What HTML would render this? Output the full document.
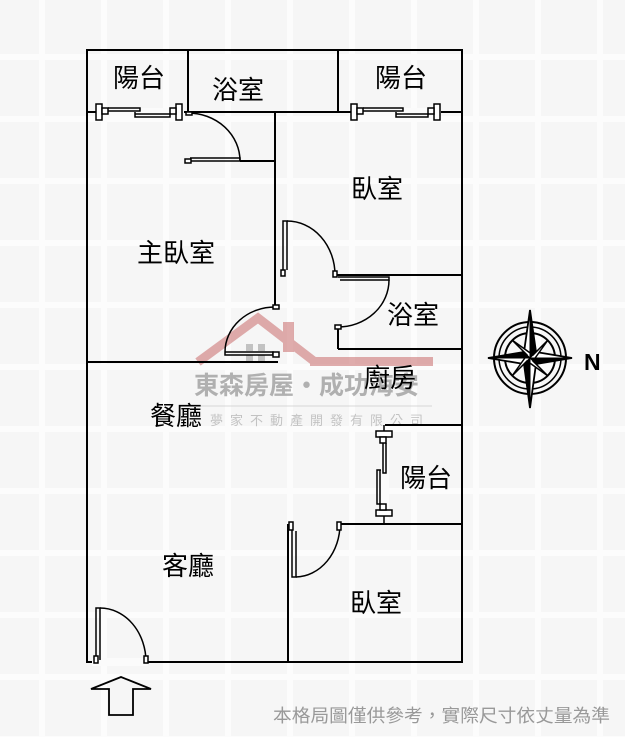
<!DOCTYPE html>
<html><head><meta charset="utf-8"><style>
html,body{margin:0;padding:0;background:#fbfbfb;}
svg{display:block;}
text{font-family:"Liberation Sans","Noto Sans CJK TC",sans-serif;}
</style></head><body>
<svg width="625" height="737" viewBox="0 0 625 737" xmlns="http://www.w3.org/2000/svg">
<defs>
<pattern id="g" width="62" height="62" patternUnits="userSpaceOnUse" x="-20" y="-5">
<rect width="62" height="62" fill="#fcfcfc"/>
<rect x="3" y="3" width="56" height="56" fill="#f6f6f6"/>
</pattern>
</defs>
<rect width="625" height="737" fill="url(#g)"/>
<g opacity="0.55">
<path d="M198,362 L258,318 L315,362" fill="none" stroke="#c96b6b" stroke-width="9"/>
<rect x="283" y="322" width="11" height="30" fill="#c96b6b"/>
<rect x="310" y="357" width="123" height="9" fill="#c96b6b"/>
<rect x="246" y="344" width="7" height="7" fill="#999"/><rect x="258" y="344" width="7" height="7" fill="#999"/>
<rect x="246" y="355" width="7" height="7" fill="#999"/><rect x="258" y="355" width="7" height="7" fill="#999"/>
<text x="194" y="394" font-size="25" font-weight="bold" fill="#777">東森房屋・成功海安</text>
<line x1="200" y1="406" x2="432" y2="406" stroke="#bbb" stroke-width="1"/>
<text x="210" y="425" font-size="13" fill="#999" letter-spacing="7">夢家不動產開發有限公司</text>
</g>
<g stroke="#000" stroke-width="2" fill="none">
<rect x="87" y="50" width="375" height="612"/>
<line x1="87" y1="112" x2="462" y2="112"/>
<line x1="188" y1="50" x2="188" y2="112"/>
<line x1="338" y1="50" x2="338" y2="112"/>
<line x1="275" y1="112" x2="275" y2="307"/>
<line x1="240" y1="161" x2="275" y2="161"/>
<line x1="335" y1="275" x2="462" y2="275"/>
<line x1="338" y1="325" x2="338" y2="349"/>
<line x1="338" y1="349" x2="462" y2="349"/>
<line x1="87" y1="362" x2="278" y2="362"/>
<line x1="385" y1="425" x2="462" y2="425"/>
<line x1="340" y1="524" x2="462" y2="524"/>
<line x1="288" y1="524" x2="288" y2="662"/>
</g>
<g fill="#fbfbfb" stroke="none">
<rect x="96" y="108" width="88" height="8"/>
<rect x="351" y="108" width="90" height="8"/>
<rect x="380" y="430" width="9" height="90"/>
<rect x="92" y="658" width="56" height="8"/>
</g>
<g stroke="#000" stroke-width="1.5" fill="#fff">
<rect x="96" y="104" width="6" height="16"/><rect x="102" y="108" width="6" height="6"/>
<rect x="176" y="104" width="6" height="16"/><rect x="170" y="108" width="6" height="6"/>
<polyline points="108,108 140,108 140,111 108,111" fill="none"/>
<polyline points="135,114 170,114 170,117 135,117 135,112" fill="none"/>
<rect x="351" y="104" width="6" height="16"/><rect x="357" y="108" width="6" height="6"/>
<rect x="434" y="104" width="6" height="16"/><rect x="428" y="108" width="6" height="6"/>
<polyline points="363,108 403,108 403,111 363,111" fill="none"/>
<polyline points="396,114 428,114 428,117 396,117 396,112" fill="none"/>
<rect x="376" y="431" width="16" height="6"/><rect x="380" y="437" width="6" height="6"/>
<rect x="376" y="510" width="16" height="6"/><rect x="380" y="504" width="6" height="6"/>
<polyline points="386,443 386,473 383,473 383,443" fill="none"/>
<polyline points="380,470 380,504 377,504 377,470 381,470" fill="none"/>
<line x1="384" y1="425" x2="384" y2="431"/><line x1="384" y1="516" x2="384" y2="524"/>
</g>
<g stroke="#000" stroke-width="1.5" fill="none">
<path d="M188,113 A52,48 0 0 1 240,161"/>
<rect x="186" y="112" width="6" height="3" fill="#fff"/>
<polyline points="190,158 240,158 240,161 190,161"/>
<rect x="185" y="159" width="6" height="4" fill="#fff"/>
<polyline points="283,270 283,221 287,221 287,270"/>
<path d="M287,221 A48,54 0 0 1 335,275"/>
<rect x="281" y="270" width="4" height="6" fill="#fff"/>
<rect x="333" y="271" width="4" height="6" fill="#fff"/>
<polyline points="338,277 389,277 389,280 340,280"/>
<path d="M389,280 A51,47 0 0 1 338,327"/>
<rect x="335" y="325" width="6" height="4" fill="#fff"/>
<path d="M275,307 A50,45 0 0 0 225,352"/>
<rect x="273" y="305" width="6" height="4" fill="#fff"/>
<polyline points="225,352 273,352 273,355 225,355 225,352"/>
<rect x="273" y="352" width="6" height="5" fill="#fff"/>
<polyline points="292,524 292,577 296,577 296,531"/>
<rect x="289" y="522" width="4" height="8" fill="#fff"/>
<path d="M296,577 A45,53 0 0 0 340,524"/>
<rect x="337" y="522" width="4" height="8" fill="#fff"/>
<polyline points="96,662 96,608 100,608 100,660"/>
<rect x="94" y="656" width="4" height="7" fill="#fff"/>
<path d="M100,608 A46,54 0 0 1 146,662"/>
<rect x="144" y="656" width="4" height="7" fill="#fff"/>
<polygon points="91,689 121,677 151,689 133,689 133,715 109,715 109,689" stroke-width="1.8"/>
</g>
<g transform="translate(530,358)" stroke="#000" fill="none">
<circle r="36" stroke-width="2"/>
<circle r="31" stroke-width="1.5"/>
<circle r="25" stroke-width="2"/>
<polygon points="0,-48 6,-6 42,0 6,6 0,50 -6,6 -42,0 -6,-6" fill="#fff" stroke-width="1.8"/>
<polygon points="-18,-18 3,-3 18,-18 3,3 18,18 -3,3 -18,18 -3,-3" fill="#fff" stroke-width="1.5"/>
<polygon points="0,-48 0,0 6,-6" fill="#000"/><polygon points="42,0 0,0 6,6" fill="#000"/>
<polygon points="0,50 0,0 -6,6" fill="#000"/><polygon points="-42,0 0,0 -6,-6" fill="#000"/>
</g>
<text x="584" y="370" font-size="23" font-weight="bold" fill="#000">N</text>
<g font-size="26" fill="#000">
<text x="113" y="87">陽台</text>
<text x="212" y="99">浴室</text>
<text x="375" y="87">陽台</text>
<text x="351" y="198">臥室</text>
<text x="137" y="262">主臥室</text>
<text x="387" y="324">浴室</text>
<text x="364" y="387">廚房</text>
<text x="150" y="425">餐廳</text>
<text x="400" y="487">陽台</text>
<text x="162" y="575">客廳</text>
<text x="350" y="612">臥室</text>
</g>
<text x="273" y="722" font-size="18" fill="#999" textLength="337" lengthAdjust="spacingAndGlyphs">本格局圖僅供參考，實際尺寸依丈量為準</text>
</svg>
</body></html>
